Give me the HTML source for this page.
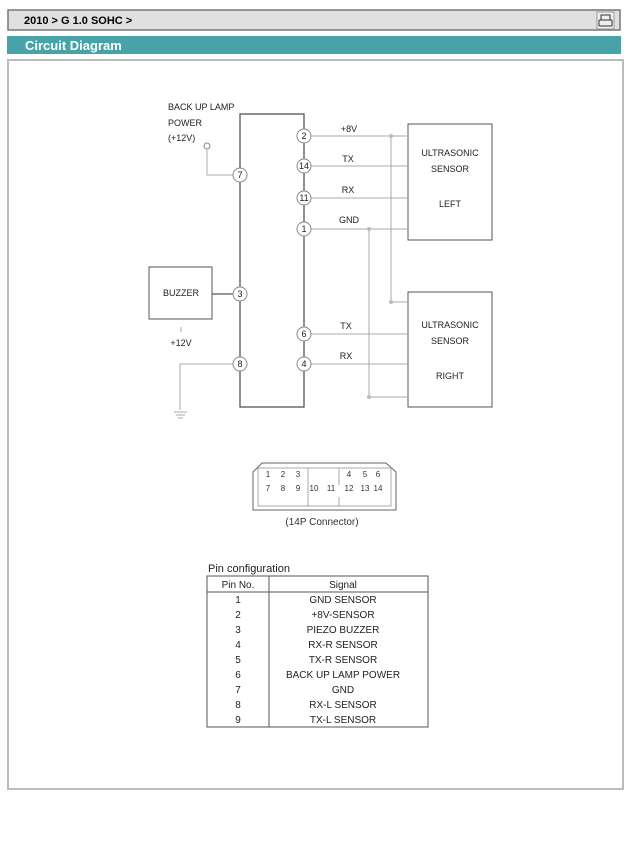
<!DOCTYPE html>
<html><head><meta charset="utf-8"><style>
body{margin:0;background:#fff;width:632px;height:857px;overflow:hidden;font-family:"Liberation Sans",Arial,sans-serif}
</style></head><body>
<svg width="632" height="857" viewBox="0 0 632 857" xmlns="http://www.w3.org/2000/svg" font-family="Liberation Sans, Arial, sans-serif">
<rect x="8" y="10" width="612" height="20" fill="#e0e0e0" stroke="#777" stroke-width="1.5"/>
<text x="24" y="24" font-size="11" font-weight="bold" fill="#000">2010 &gt; G 1.0 SOHC &gt;</text>
<rect x="597" y="12" width="17" height="17" fill="#eee" stroke="#999"/>
<rect x="601" y="15" width="9" height="5" fill="none" stroke="#333"/>
<rect x="599" y="20" width="13" height="6" rx="1" fill="none" stroke="#333"/>
<rect x="7" y="36" width="614" height="18" fill="#48a3a8"/>
<text x="25" y="50" font-size="13" font-weight="bold" fill="#fff">Circuit Diagram</text>
<rect x="8" y="60" width="615" height="729" fill="#fff" stroke="#bbb" stroke-width="2"/>

<g stroke="#555" fill="none" stroke-width="1">
<rect x="240" y="114" width="64" height="293" stroke-width="1.3"/>
<rect x="408" y="124" width="84" height="116"/>
<rect x="408" y="292" width="84" height="115"/>
<rect x="149" y="267" width="63" height="52"/>
</g>
<g stroke="#aaa" fill="none" stroke-width="1">
<line x1="304" y1="136" x2="408" y2="136"/>
<line x1="304" y1="166" x2="408" y2="166"/>
<line x1="304" y1="198" x2="408" y2="198"/>
<line x1="304" y1="229" x2="408" y2="229"/>
<line x1="304" y1="334" x2="408" y2="334"/>
<line x1="304" y1="364" x2="408" y2="364"/>
<line x1="391" y1="136" x2="391" y2="302"/>
<line x1="391" y1="302" x2="408" y2="302"/>
<line x1="369" y1="229" x2="369" y2="397"/>
<line x1="369" y1="397" x2="408" y2="397"/>
<polyline points="207,150 207,175 240,175"/>
<line x1="180" y1="364" x2="240" y2="364"/>
<line x1="180" y1="364" x2="180" y2="410"/>
<line x1="174" y1="412" x2="187" y2="412"/>
<line x1="176" y1="415" x2="185" y2="415"/>
<line x1="178" y1="418" x2="183" y2="418"/>
<line x1="181" y1="327" x2="181" y2="332"/>
</g>
<line x1="212" y1="294" x2="240" y2="294" stroke="#777" stroke-width="1.5"/>
<circle cx="207" cy="146" r="3" fill="#fff" stroke="#888"/>
<g fill="#bbb"><circle cx="391" cy="136" r="2"/><circle cx="391" cy="302" r="2"/><circle cx="369" cy="229" r="2"/><circle cx="369" cy="397" r="2"/></g>
<g fill="#fff" stroke="#888">
<circle cx="240" cy="175" r="7"/><circle cx="240" cy="294" r="7"/><circle cx="240" cy="364" r="7"/>
<circle cx="304" cy="136" r="7"/><circle cx="304" cy="166" r="7"/><circle cx="304" cy="198" r="7"/><circle cx="304" cy="229" r="7"/><circle cx="304" cy="334" r="7"/><circle cx="304" cy="364" r="7"/>
</g>
<g font-size="9" fill="#222" text-anchor="middle">
<text x="240" y="178">7</text><text x="240" y="297">3</text><text x="240" y="367">8</text>
<text x="304" y="139">2</text><text x="304" y="169">14</text><text x="304" y="201">11</text><text x="304" y="232">1</text><text x="304" y="337">6</text><text x="304" y="367">4</text>
<text x="349" y="132">+8V</text><text x="348" y="162">TX</text><text x="348" y="193">RX</text><text x="349" y="223">GND</text>
<text x="346" y="329">TX</text><text x="346" y="359">RX</text>
<text x="450" y="156">ULTRASONIC</text><text x="450" y="172">SENSOR</text><text x="450" y="207">LEFT</text>
<text x="450" y="328">ULTRASONIC</text><text x="450" y="344">SENSOR</text><text x="450" y="379">RIGHT</text>
<text x="181" y="296">BUZZER</text>
<text x="181" y="346">+12V</text>
</g>
<g font-size="9" fill="#222">
<text x="168" y="110">BACK UP LAMP</text><text x="168" y="126">POWER</text><text x="168" y="141">(+12V)</text>
</g>

<path d="M262,463 L386,463 L396,472 L396,510 L253,510 L253,472 Z" fill="none" stroke="#666"/>
<rect x="258" y="468" width="133" height="38" fill="none" stroke="#aaa"/>
<g stroke="#aaa"><line x1="308" y1="468" x2="308" y2="506"/><line x1="339" y1="468" x2="339" y2="485"/><line x1="339" y1="497" x2="339" y2="506"/></g>
<g font-size="8" fill="#333" text-anchor="middle">
<text x="268" y="477">1</text><text x="283" y="477">2</text><text x="298" y="477">3</text><text x="349" y="477">4</text><text x="365" y="477">5</text><text x="378" y="477">6</text>
<text x="268" y="491">7</text><text x="283" y="491">8</text><text x="298" y="491">9</text><text x="314" y="491">10</text><text x="331" y="491">11</text><text x="349" y="491">12</text><text x="365" y="491">13</text><text x="378" y="491">14</text>
<text x="322" y="525" font-size="10">(14P Connector)</text>
</g>

<text x="208" y="572" font-size="11" fill="#222">Pin configuration</text>
<rect x="207" y="576" width="221" height="151" fill="none" stroke="#555"/>
<line x1="207" y1="592" x2="428" y2="592" stroke="#555"/>
<line x1="269" y1="576" x2="269" y2="727" stroke="#555"/>
<g font-size="10" fill="#222" text-anchor="middle">
<text x="238" y="588">Pin No.</text><text x="343" y="588">Signal</text>
<text x="238" y="603">1</text><text x="343" y="603">GND SENSOR</text>
<text x="238" y="618">2</text><text x="343" y="618">+8V-SENSOR</text>
<text x="238" y="633">3</text><text x="343" y="633">PIEZO BUZZER</text>
<text x="238" y="648">4</text><text x="343" y="648">RX-R SENSOR</text>
<text x="238" y="663">5</text><text x="343" y="663">TX-R SENSOR</text>
<text x="238" y="678">6</text><text x="343" y="678">BACK UP LAMP POWER</text>
<text x="238" y="693">7</text><text x="343" y="693">GND</text>
<text x="238" y="708">8</text><text x="343" y="708">RX-L SENSOR</text>
<text x="238" y="723">9</text><text x="343" y="723">TX-L SENSOR</text>
</g>
</svg>
</body></html>
